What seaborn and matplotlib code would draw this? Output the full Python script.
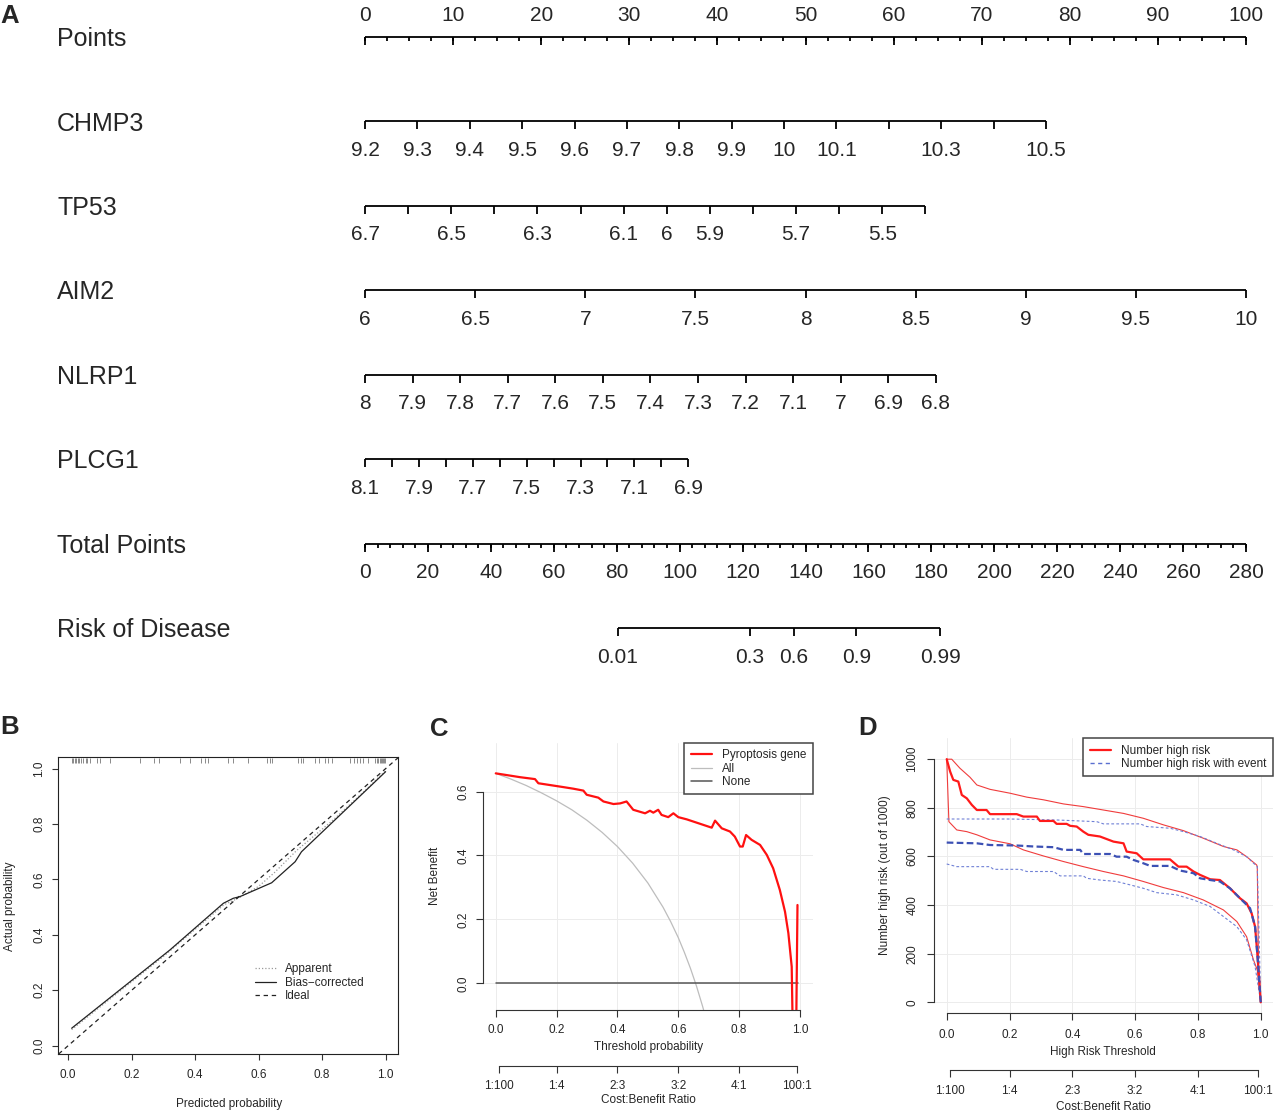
import numpy as np
import seaborn as sns
from matplotlib import pyplot as plt
from matplotlib.lines import Line2D

FIG_W, FIG_H = 1277, 1114

# ---------------- panel A: nomogram ----------------
POINTS_MAJOR = [0, 10, 20, 30, 40, 50, 60, 70, 80, 90, 100]
POINTS_MINOR_STEP = 2.5

CHMP3_VALUES = [9.2, 9.3, 9.4, 9.5, 9.6, 9.7, 9.8, 9.9, 10.0, 10.1, 10.2, 10.3, 10.4, 10.5]
CHMP3_LABELS = ["9.2", "9.3", "9.4", "9.5", "9.6", "9.7", "9.8", "9.9", "10", "10.1", "", "10.3", "", "10.5"]
CHMP3_MAX_POINTS = 77.3

TP53_VALUES = [6.7, 6.6, 6.5, 6.4, 6.3, 6.2, 6.1, 6.0, 5.9, 5.8, 5.7, 5.6, 5.5, 5.4]
TP53_LABELS = ["6.7", "", "6.5", "", "6.3", "", "6.1", "6", "5.9", "", "5.7", "", "5.5", ""]
TP53_MAX_POINTS = 63.6

AIM2_VALUES = [6.0, 6.5, 7.0, 7.5, 8.0, 8.5, 9.0, 9.5, 10.0]
AIM2_LABELS = ["6", "6.5", "7", "7.5", "8", "8.5", "9", "9.5", "10"]
AIM2_MAX_POINTS = 100.0

NLRP1_VALUES = [8.0, 7.9, 7.8, 7.7, 7.6, 7.5, 7.4, 7.3, 7.2, 7.1, 7.0, 6.9, 6.8]
NLRP1_LABELS = ["8", "7.9", "7.8", "7.7", "7.6", "7.5", "7.4", "7.3", "7.2", "7.1", "7", "6.9", "6.8"]
NLRP1_MAX_POINTS = 64.8

PLCG1_VALUES = [8.1, 8.0, 7.9, 7.8, 7.7, 7.6, 7.5, 7.4, 7.3, 7.2, 7.1, 7.0, 6.9]
PLCG1_LABELS = ["8.1", "", "7.9", "", "7.7", "", "7.5", "", "7.3", "", "7.1", "", "6.9"]
PLCG1_MAX_POINTS = 36.7

TOTAL_MAJOR = [0, 20, 40, 60, 80, 100, 120, 140, 160, 180, 200, 220, 240, 260, 280]
TOTAL_MINOR_STEP = 4
TOTAL_MAX = 280

RISK_LABELS = ["0.01", "0.3", "0.6", "0.9", "0.99"]
RISK_TOTAL_POINTS = [80.4, 122.3, 136.2, 156.2, 182.8]

# ---------------- panel B: calibration ----------------
RUG_PRED = [0.011, 0.015, 0.02, 0.025, 0.03, 0.035, 0.04, 0.048, 0.055, 0.06, 0.068,
            0.09, 0.1, 0.131, 0.226, 0.27, 0.285, 0.352, 0.384, 0.42, 0.43, 0.441,
            0.504, 0.52, 0.567, 0.625, 0.635, 0.641, 0.725, 0.735, 0.741, 0.777, 0.79,
            0.809, 0.82, 0.83, 0.888, 0.9, 0.91, 0.92, 0.93, 0.945, 0.967, 0.972,
            0.977, 0.982, 0.986, 0.99, 0.993, 0.996, 0.999]
BIAS_PRED = [0.011, 0.32, 0.489, 0.52, 0.541, 0.641, 0.715, 0.735, 1.0]
BIAS_OBS = [0.063, 0.345, 0.514, 0.532, 0.538, 0.588, 0.664, 0.70, 0.989]
APPARENT_PRED = [0.011, 0.3, 0.49, 0.54, 0.6, 0.65, 0.72, 0.835, 0.94, 1.0]
APPARENT_OBS = [0.058, 0.322, 0.508, 0.535, 0.575, 0.625, 0.705, 0.815, 0.926, 0.993]

# ---------------- panel C: decision curve ----------------
MODEL_THRESH = [0.0, 0.08, 0.129, 0.14, 0.222, 0.255, 0.288, 0.299, 0.337, 0.354, 0.387,
                0.409, 0.43, 0.452, 0.491, 0.507, 0.518, 0.534, 0.545, 0.567, 0.584, 0.6,
                0.628, 0.71, 0.721, 0.743, 0.77, 0.786, 0.803, 0.812, 0.823, 0.841, 0.869,
                0.891, 0.912, 0.934, 0.951, 0.962, 0.973, 0.979, 0.986, 0.992]
MODEL_NB = [0.657, 0.645, 0.639, 0.626, 0.614, 0.609, 0.603, 0.59, 0.581, 0.569, 0.561,
            0.563, 0.569, 0.543, 0.532, 0.54, 0.534, 0.543, 0.527, 0.52, 0.532, 0.52,
            0.513, 0.487, 0.509, 0.485, 0.475, 0.459, 0.428, 0.428, 0.464, 0.449, 0.433,
            0.402, 0.36, 0.292, 0.224, 0.157, 0.052, -0.3, -0.3, 0.245]
ALL_THRESH = [0.0, 0.05, 0.1, 0.15, 0.2, 0.25, 0.3, 0.35, 0.4, 0.45, 0.5, 0.55, 0.575,
              0.6, 0.62, 0.64, 0.66, 0.68, 0.69]
ALL_NB = [0.657, 0.639, 0.619, 0.596, 0.571, 0.543, 0.51, 0.472, 0.428, 0.376, 0.314,
          0.238, 0.193, 0.143, 0.097, 0.047, -0.009, -0.072, -0.107]
NONE_THRESH = [0.0, 0.995]
NONE_NB = [0.0, 0.0]

COST_BENEFIT_THRESH = [0.0099, 0.2, 0.4, 0.6, 0.8, 0.99]
COST_BENEFIT_LABELS = ["1:100", "1:4", "2:3", "3:2", "4:1", "100:1"]

# ---------------- panel D: clinical impact ----------------
HR_THRESH = [0.0, 0.011, 0.021, 0.037, 0.048, 0.064, 0.08, 0.096, 0.127, 0.138, 0.223,
             0.244, 0.287, 0.297, 0.34, 0.35, 0.382, 0.393, 0.414, 0.435, 0.451, 0.488,
             0.531, 0.563, 0.573, 0.605, 0.626, 0.711, 0.738, 0.764, 0.786, 0.807, 0.839,
             0.87, 0.902, 0.934, 0.955, 0.971, 0.982, 0.989, 0.996, 1.0]
HR_COUNT = [1000, 949, 915, 908, 853, 839, 812, 791, 791, 774, 774, 764, 764, 746, 746,
            734, 734, 726, 723, 702, 689, 682, 661, 654, 620, 613, 588, 588, 558, 558,
            538, 524, 506, 503, 469, 428, 407, 366, 311, 202, 78, 0]
HR_UP_THRESH = [0.0, 0.016, 0.042, 0.074, 0.096, 0.138, 0.202, 0.255, 0.308, 0.372, 0.435,
                0.499, 0.563, 0.626, 0.69, 0.754, 0.817, 0.881, 0.924, 0.955, 0.987, 0.989,
                0.993, 1.0]
HR_UP_COUNT = [1000, 1000, 963, 926, 894, 876, 860, 844, 833, 816, 805, 791, 777, 757,
               730, 706, 675, 641, 627, 599, 565, 558, 147, 0]
HR_LO_THRESH = [0.0, 0.007, 0.032, 0.064, 0.096, 0.138, 0.202, 0.244, 0.308, 0.372, 0.435,
                0.499, 0.563, 0.626, 0.69, 0.754, 0.817, 0.881, 0.924, 0.955, 0.977, 0.989,
                1.0]
HR_LO_COUNT = [1000, 743, 709, 702, 689, 668, 652, 627, 602, 579, 558, 538, 520, 497, 472,
               451, 421, 380, 332, 270, 174, 133, 0]
EV_THRESH = [0.0, 0.096, 0.138, 0.223, 0.276, 0.34, 0.372, 0.425, 0.435, 0.52, 0.541,
             0.573, 0.594, 0.626, 0.648, 0.711, 0.743, 0.786, 0.807, 0.839, 0.87, 0.902,
             0.934, 0.966, 0.982, 0.989, 1.0]
EV_COUNT = [657, 654, 647, 645, 641, 638, 627, 627, 610, 610, 599, 599, 586, 572, 561, 561,
            542, 531, 510, 503, 497, 469, 428, 387, 311, 202, 0]
EV_UP_THRESH = [0.0, 0.202, 0.35, 0.478, 0.499, 0.616, 0.637, 0.711, 0.754, 0.807, 0.86,
                0.913, 0.955, 0.989, 1.0]
EV_UP_COUNT = [754, 754, 750, 743, 734, 734, 723, 716, 702, 682, 654, 627, 599, 558, 0]
EV_LO_THRESH = [0.0, 0.032, 0.138, 0.149, 0.234, 0.255, 0.34, 0.361, 0.435, 0.446, 0.488,
                0.541, 0.584, 0.626, 0.669, 0.732, 0.786, 0.839, 0.881, 0.924, 0.955, 0.982,
                1.0]
EV_LO_COUNT = [569, 558, 558, 547, 547, 538, 538, 520, 520, 510, 503, 497, 483, 469, 451,
               442, 421, 394, 353, 311, 257, 147, 0]


def add_axes_px(fig, left, top, right, bottom):
    return fig.add_axes([left / FIG_W, 1 - bottom / FIG_H,
                         (right - left) / FIG_W, (bottom - top) / FIG_H])


def text_px(fig, x, y, s, **kw):
    kw.setdefault("ha", "center")
    kw.setdefault("va", "center")
    fig.text(x / FIG_W, 1 - y / FIG_H, s, **kw)


def to_points(values, max_points):
    values = np.asarray(values, dtype=float)
    return (values - values[0]) / (values[-1] - values[0]) * max_points


def draw_scale(ax, row, pos, labels, minor=None, above=False):
    pos = np.asarray(pos, dtype=float)
    ax.hlines(row, pos.min(), pos.max(), color="black", lw=1.3)
    ax.vlines(pos, row, row + 0.095, color="black", lw=1.3)
    if minor is not None:
        ax.vlines(minor, row, row + 0.048, color="black", lw=1.3)
    dy = -0.26 if above else 0.345
    for p, lab in zip(pos, labels):
        if lab:
            ax.text(p, row + dy, lab, ha="center", va="center", fontsize=15)


def style_r_axes(ax, xticks, xlabels, yticks, ylabels, tick_len=5, xpad=5, ypad=5):
    ax.set_xticks(xticks, labels=xlabels)
    ax.set_yticks(yticks, labels=ylabels, rotation=90, va="center")
    ax.tick_params(axis="both", direction="out", length=tick_len, width=0.8,
                   labelsize=8.5, color="#333333")
    ax.tick_params(axis="x", pad=xpad)
    ax.tick_params(axis="y", pad=ypad)


def main():
    sns.set_theme(style="ticks")
    plt.rcParams["font.family"] = ["Liberation Sans", "DejaVu Sans"]
    plt.rcParams["axes.edgecolor"] = "#333333"
    plt.rcParams["axes.linewidth"] = 0.8

    fig = plt.figure(figsize=(FIG_W / 100, FIG_H / 100), dpi=100)

    # ---------- A ----------
    ax_a = add_axes_px(fig, 0, 0, FIG_W, 680)
    ax_a.set_axis_off()
    px_per_point = (1246 - 365) / 100
    row_gap = 84.43
    ax_a.set_xlim(-365 / px_per_point, (FIG_W - 365) / px_per_point)
    ax_a.set_ylim((680 - 37) / row_gap, -37 / row_gap)

    draw_scale(ax_a, 0, POINTS_MAJOR, [str(v) for v in POINTS_MAJOR],
               minor=np.arange(0, 100.01, POINTS_MINOR_STEP), above=True)
    variables = [
        (CHMP3_VALUES, CHMP3_LABELS, CHMP3_MAX_POINTS),
        (TP53_VALUES, TP53_LABELS, TP53_MAX_POINTS),
        (AIM2_VALUES, AIM2_LABELS, AIM2_MAX_POINTS),
        (NLRP1_VALUES, NLRP1_LABELS, NLRP1_MAX_POINTS),
        (PLCG1_VALUES, PLCG1_LABELS, PLCG1_MAX_POINTS),
    ]
    for i, (vals, labs, mx) in enumerate(variables, start=1):
        draw_scale(ax_a, i, to_points(vals, mx), labs)
    scale = 100 / TOTAL_MAX
    draw_scale(ax_a, 6, np.array(TOTAL_MAJOR) * scale, [str(v) for v in TOTAL_MAJOR],
               minor=np.arange(0, TOTAL_MAX + 0.1, TOTAL_MINOR_STEP) * scale)
    draw_scale(ax_a, 7, np.array(RISK_TOTAL_POINTS) * scale, RISK_LABELS)

    row_names = ["Points", "CHMP3", "TP53", "AIM2", "NLRP1", "PLCG1",
                 "Total Points", "Risk of Disease"]
    for i, name in enumerate(row_names):
        ax_a.text(57 / FIG_W, i + 0.025, name, transform=ax_a.get_yaxis_transform(),
                  ha="left", va="center", fontsize=18)

    # ---------- B ----------
    ax_b = add_axes_px(fig, 58, 757, 398, 1054)
    sns.lineplot(x=APPARENT_PRED, y=APPARENT_OBS, ax=ax_b, color="#9a9a9a", lw=0.9,
                 linestyle=(0, (1, 1.6)), sort=False, estimator=None, label="Apparent")
    sns.lineplot(x=BIAS_PRED, y=BIAS_OBS, ax=ax_b, color="#222222", lw=0.9,
                 sort=False, estimator=None, label="Bias\u2212corrected")
    ax_b.axline((0, 0), slope=1, color="#222222", lw=0.9, linestyle=(0, (3.5, 3)),
                label="Ideal")
    ax_b.vlines(RUG_PRED, 0.979, 0.996, transform=ax_b.get_xaxis_transform(),
                color="#777777", lw=0.6)
    ax_b.set_xlim(-0.032, 1.039)
    ax_b.set_ylim(-0.03, 1.042)
    ticks = [0, 0.2, 0.4, 0.6, 0.8, 1.0]
    tlabs = ["0.0", "0.2", "0.4", "0.6", "0.8", "1.0"]
    style_r_axes(ax_b, ticks, tlabs, ticks, tlabs, tick_len=4.3, xpad=6.5, ypad=5)
    for sp in ax_b.spines.values():
        sp.set_visible(True)
        sp.set_color("#222222")
    handles, labels = ax_b.get_legend_handles_labels()
    ax_b.legend(handles, labels, loc="upper left", bbox_to_anchor=(0.579, 0.305),
                frameon=False, fontsize=8.5, handlelength=1.8, handletextpad=0.75,
                labelspacing=0.12, borderpad=0, borderaxespad=0)
    ax_b.set_xlabel("")
    ax_b.set_ylabel("")
    text_px(fig, 228.7, 1104, "Predicted probability", fontsize=8.5)
    text_px(fig, 10, 906, "Actual probability", fontsize=8.5, rotation=90)

    # ---------- C ----------
    ax_c = add_axes_px(fig, 483.3, 743, 813.3, 1010)
    ax_c.grid(True, color="#ececec", lw=0.7)
    ax_c.set_axisbelow(True)
    sns.lineplot(x=ALL_THRESH, y=ALL_NB, ax=ax_c, color="#bdbdbd", lw=0.9,
                 sort=False, estimator=None, label="All")
    sns.lineplot(x=NONE_THRESH, y=NONE_NB, ax=ax_c, color="#555555", lw=1.1,
                 sort=False, estimator=None, label="None")
    sns.lineplot(x=MODEL_THRESH, y=MODEL_NB, ax=ax_c, color="#ff1010", lw=1.6,
                 sort=False, estimator=None, label="Pyroptosis gene")
    ax_c.set_xlim(-0.041, 1.044)
    ax_c.set_ylim(-0.0836, 0.752)
    style_r_axes(ax_c, ticks, tlabs, [0, 0.2, 0.4, 0.6], ["0.0", "0.2", "0.4", "0.6"],
                 xpad=5, ypad=4.7)
    ax_c.spines["top"].set_visible(False)
    ax_c.spines["right"].set_visible(False)
    ax_c.spines["left"].set_bounds(0, 0.6)
    ax_c.spines["bottom"].set_bounds(0, 1)
    handles, labels = ax_c.get_legend_handles_labels()
    order = [labels.index(l) for l in ["Pyroptosis gene", "All", "None"]]
    leg = ax_c.legend([handles[i] for i in order], [labels[i] for i in order],
                      loc="upper right", bbox_to_anchor=(1.0, 1.0), borderaxespad=0,
                      fontsize=8.5, handlelength=1.8, handletextpad=0.9,
                      labelspacing=0.1, borderpad=0.55, fancybox=False, framealpha=1)
    leg.get_frame().set_edgecolor("#444444")
    leg.get_frame().set_linewidth(1.1)
    ax_c.set_xlabel("")
    ax_c.set_ylabel("")
    sec_c = ax_c.secondary_xaxis(-(1065.7 - 1010) / 267)
    sec_c.set_xticks(COST_BENEFIT_THRESH, labels=COST_BENEFIT_LABELS)
    sec_c.spines["bottom"].set_bounds(COST_BENEFIT_THRESH[0], COST_BENEFIT_THRESH[-1])
    sec_c.tick_params(direction="out", length=5, width=0.8, pad=5.5, labelsize=8.5,
                      color="#333333")
    text_px(fig, 648.3, 1047.3, "Threshold probability", fontsize=8.5)
    text_px(fig, 648.3, 1100, "Cost:Benefit Ratio", fontsize=8.5)
    text_px(fig, 434.5, 876, "Net Benefit", fontsize=8.5, rotation=90)

    # ---------- D ----------
    ax_d = add_axes_px(fig, 934.3, 738.3, 1273.3, 1013.3)
    ax_d.grid(True, color="#ececec", lw=0.7)
    ax_d.set_axisbelow(True)
    for xs, ys in [(HR_UP_THRESH, HR_UP_COUNT), (HR_LO_THRESH, HR_LO_COUNT)]:
        sns.lineplot(x=xs, y=ys, ax=ax_d, color="#f03c3c", lw=0.8,
                     sort=False, estimator=None)
    for xs, ys in [(EV_UP_THRESH, EV_UP_COUNT), (EV_LO_THRESH, EV_LO_COUNT)]:
        sns.lineplot(x=xs, y=ys, ax=ax_d, color="#6f80d6", lw=0.8,
                     linestyle=(0, (2.5, 2)), sort=False, estimator=None)
    sns.lineplot(x=HR_THRESH, y=HR_COUNT, ax=ax_d, color="#ff1a1a", lw=1.6,
                 sort=False, estimator=None)
    sns.lineplot(x=EV_THRESH, y=EV_COUNT, ax=ax_d, color="#3c50b4", lw=1.6,
                 linestyle=(0, (3, 1.5)), sort=False, estimator=None)
    ax_d.set_xlim(-0.0395, 1.04)
    ax_d.set_ylim(-45.3, 1086)
    yt = [0, 200, 400, 600, 800, 1000]
    style_r_axes(ax_d, ticks, tlabs, yt, [str(v) for v in yt], xpad=6, ypad=6.5)
    ax_d.spines["top"].set_visible(False)
    ax_d.spines["right"].set_visible(False)
    ax_d.spines["left"].set_bounds(0, 1000)
    ax_d.spines["bottom"].set_bounds(0, 1)
    d_handles = [Line2D([], [], color="#ff1a1a", lw=1.6),
                 Line2D([], [], color="#5a6fd0", lw=1.0, linestyle=(0, (3, 2.5)))]
    leg = ax_d.legend(d_handles, ["Number high risk", "Number high risk with event"],
                      loc="upper right", bbox_to_anchor=(1.0, 1.0), borderaxespad=0,
                      fontsize=8.5, handlelength=1.8, handletextpad=0.9,
                      labelspacing=0.1, borderpad=0.55, fancybox=False, framealpha=1)
    leg.get_frame().set_edgecolor("#444444")
    leg.get_frame().set_linewidth(1.1)
    ax_d.set_xlabel("")
    ax_d.set_ylabel("")
    sec_d = ax_d.secondary_xaxis(-(1070 - 1013.3) / 275)
    sec_d.set_xticks(COST_BENEFIT_THRESH, labels=COST_BENEFIT_LABELS)
    sec_d.spines["bottom"].set_bounds(COST_BENEFIT_THRESH[0], COST_BENEFIT_THRESH[-1])
    sec_d.tick_params(direction="out", length=5, width=0.8, pad=5.5, labelsize=8.5,
                      color="#333333")
    text_px(fig, 1103.3, 1051.7, "High Risk Threshold", fontsize=8.5)
    text_px(fig, 1103.3, 1106.7, "Cost:Benefit Ratio", fontsize=8.5)
    text_px(fig, 885, 875, "Number high risk (out of 1000)", fontsize=8.5, rotation=90)

    # panel letters
    for letter, x, y in [("A", 10, 16), ("B", 10, 727.5), ("C", 439.5, 728.5),
                         ("D", 868, 728)]:
        text_px(fig, x, y, letter, fontsize=18.5, fontweight="bold")

    fig.savefig("out.png", dpi=100)


if __name__ == "__main__":
    main()
